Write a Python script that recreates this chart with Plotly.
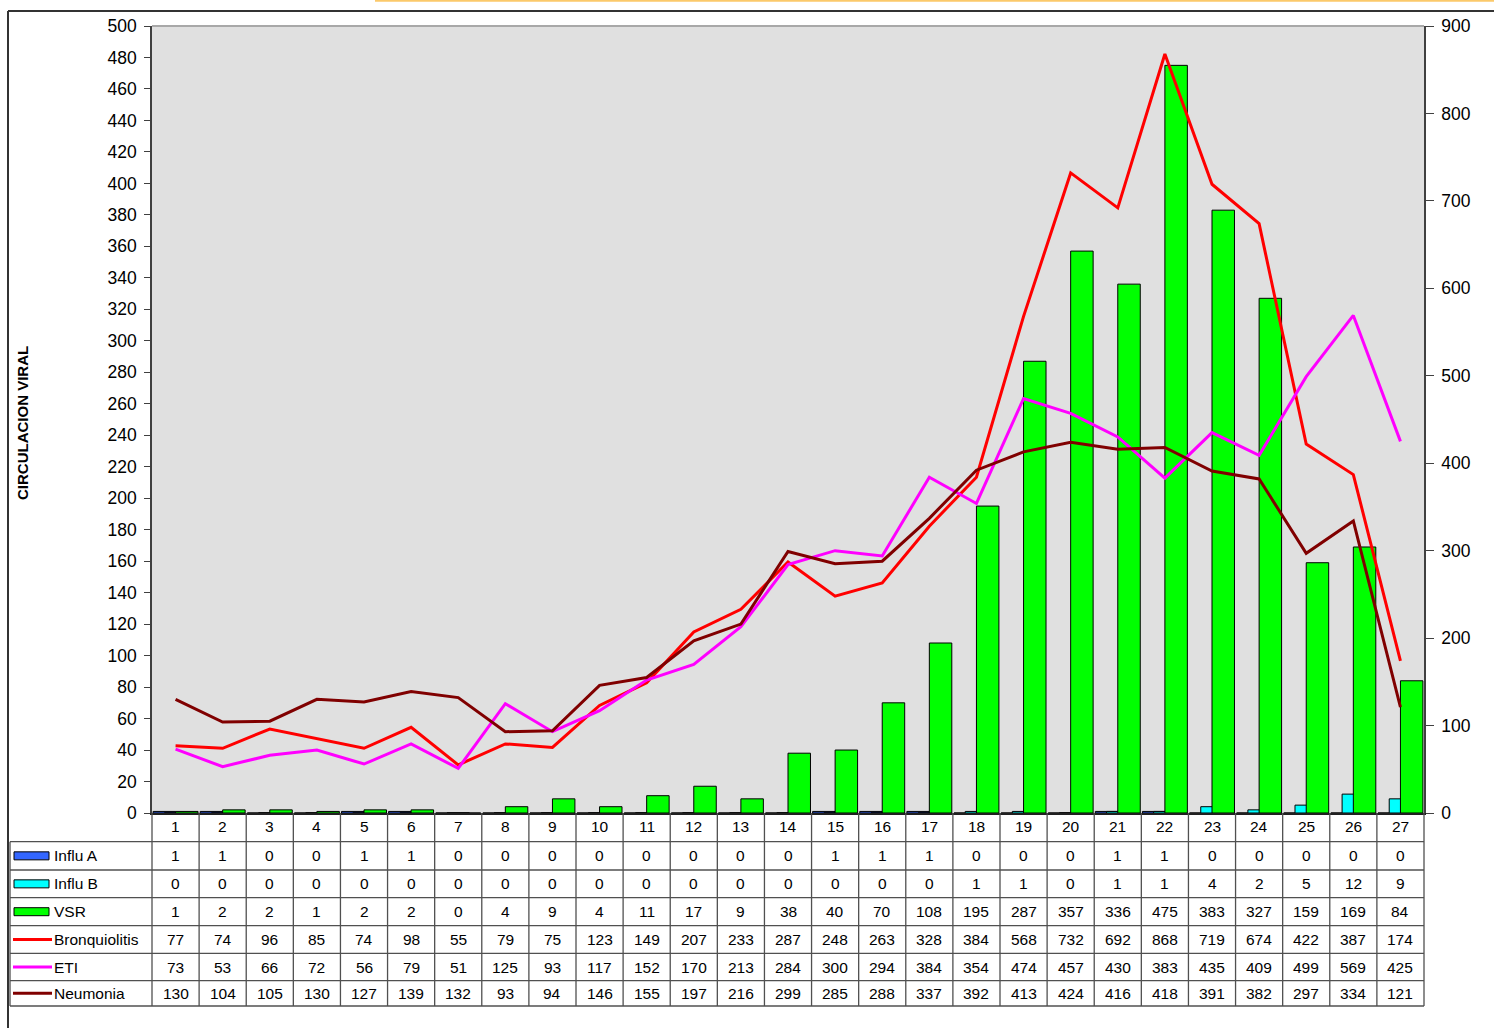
import plotly.graph_objects as go

categories = list(range(1, 28))
influ_a = [1, 1, 0, 0, 1, 1, 0, 0, 0, 0, 0, 0, 0, 0, 1, 1, 1, 0, 0, 0, 1, 1, 0, 0, 0, 0, 0]
influ_b = [0, 0, 0, 0, 0, 0, 0, 0, 0, 0, 0, 0, 0, 0, 0, 0, 0, 1, 1, 0, 1, 1, 4, 2, 5, 12, 9]
vsr = [1, 2, 2, 1, 2, 2, 0, 4, 9, 4, 11, 17, 9, 38, 40, 70, 108, 195, 287, 357, 336, 475, 383, 327, 159, 169, 84]
bronquiolitis = [77, 74, 96, 85, 74, 98, 55, 79, 75, 123, 149, 207, 233, 287, 248, 263, 328, 384, 568, 732, 692, 868, 719, 674, 422, 387, 174]
eti = [73, 53, 66, 72, 56, 79, 51, 125, 93, 117, 152, 170, 213, 284, 300, 294, 384, 354, 474, 457, 430, 383, 435, 409, 499, 569, 425]
neumonia = [130, 104, 105, 130, 127, 139, 132, 93, 94, 146, 155, 197, 216, 299, 285, 288, 337, 392, 413, 424, 416, 418, 391, 382, 297, 334, 121]

bar_series = [("Influ A", influ_a, "#3366FF"), ("Influ B", influ_b, "#00FFFF"), ("VSR", vsr, "#00FF00")]
line_series = [("Bronquiolitis", bronquiolitis, "#FF0000"), ("ETI", eti, "#FF00FF"), ("Neumonia", neumonia, "#800000")]

W, H = 1494, 1028
L, R, T, B = 152, 1424, 26, 813
FONT = "Liberation Sans, Arial, sans-serif"

def px(xp):
    return (xp - L) / (R - L)

def py(yp):
    return (B - yp) / (B - T)

fig = go.Figure()
bw = 0.477
offsets = [-bw, -bw / 2, 0]
for (name, vals, color), off in zip(bar_series, offsets):
    fig.add_trace(go.Bar(x=categories, y=vals, name=name, width=bw, offset=off,
                         marker=dict(color=color, line=dict(color="#000000", width=1)),
                         yaxis="y"))
for name, vals, color in line_series:
    fig.add_trace(go.Scatter(x=categories, y=vals, name=name, mode="lines",
                             line=dict(color=color, width=3), yaxis="y2"))

shapes = []
annotations = []

# plot top border
shapes.append(dict(type="line", xref="paper", yref="paper", x0=0, x1=1, y0=1, y1=1,
                   line=dict(color="#A8A8A8", width=2)))
# outer frame
shapes.append(dict(type="line", xref="paper", yref="paper", x0=px(8), x1=px(1500), y0=py(11), y1=py(11),
                   line=dict(color="#333333", width=2)))
shapes.append(dict(type="line", xref="paper", yref="paper", x0=px(8), x1=px(8), y0=py(11), y1=py(1035),
                   line=dict(color="#333333", width=2)))
# orange top line
shapes.append(dict(type="line", xref="paper", yref="paper", x0=px(375), x1=px(1500), y0=py(0.8), y1=py(0.8),
                   line=dict(color="#FBC96A", width=2)))

# table grid
rows = [813, 841.7, 870, 897.7, 925.7, 953.3, 980.7, 1006]
grid_col = "#505050"
n = len(categories)
for k in range(n + 1):
    xp = k / n
    shapes.append(dict(type="line", xref="paper", yref="paper", x0=xp, x1=xp, y0=py(813), y1=py(1006),
                       line=dict(color=grid_col, width=1.3)))
shapes.append(dict(type="line", xref="paper", yref="paper", x0=px(10), x1=px(10), y0=py(841.7), y1=py(1006),
                   line=dict(color=grid_col, width=1.3)))
for r in rows[1:]:
    shapes.append(dict(type="line", xref="paper", yref="paper", x0=px(10), x1=1, y0=py(r), y1=py(r),
                       line=dict(color=grid_col, width=1.3)))

# category row
cy = py((rows[0] + rows[1]) / 2 - 1)
for c in categories:
    annotations.append(dict(x=c, y=cy, xref="x", yref="paper", text=str(c), showarrow=False,
                            font=dict(size=15.5, color="#000"), xanchor="center", yanchor="middle"))

all_rows = bar_series + line_series
for i, (name, vals, color) in enumerate(all_rows):
    ry = py((rows[i + 1] + rows[i + 2]) / 2)
    for c, v in zip(categories, vals):
        annotations.append(dict(x=c, y=ry, xref="x", yref="paper", text=str(v), showarrow=False,
                                font=dict(size=15.5, color="#000"), xanchor="center", yanchor="middle"))
    annotations.append(dict(x=px(52), y=ry, xref="paper", yref="paper", text=name, showarrow=False,
                            font=dict(size=15.5, color="#000"), xanchor="left", yanchor="middle"))
    ymid = (rows[i + 1] + rows[i + 2]) / 2
    if i < 3:
        shapes.append(dict(type="rect", xref="paper", yref="paper", x0=px(14), x1=px(49),
                           y0=py(ymid - 4), y1=py(ymid + 4), fillcolor=color,
                           line=dict(color="#000", width=1)))
    else:
        shapes.append(dict(type="line", xref="paper", yref="paper", x0=px(13), x1=px(52),
                           y0=py(ymid), y1=py(ymid), line=dict(color=color, width=3)))

annotations.append(dict(x=px(22), y=py(423), xref="paper", yref="paper", text="<b>CIRCULACION VIRAL</b>",
                        textangle=-90, showarrow=False, font=dict(size=15, color="#000"),
                        xanchor="center", yanchor="middle"))
annotations.append(dict(x=px(1490), y=py(420), xref="paper", yref="paper", text="<b>IRA</b>",
                        textangle=-90, showarrow=False, font=dict(size=15, color="#000"),
                        xanchor="left", yanchor="middle"))

fig.update_layout(
    width=W, height=H,
    margin=dict(l=L, r=W - R, t=T, b=H - B, pad=0),
    paper_bgcolor="#FFFFFF", plot_bgcolor="#E0E0E0",
    barmode="overlay", showlegend=False,
    font=dict(family=FONT, color="#000"),
    xaxis=dict(range=[0.5, n + 0.5], showticklabels=False, ticks="", showgrid=False, zeroline=False,
               showline=True, linecolor="#202020", linewidth=1.5),
    yaxis=dict(range=[0, 500], dtick=20, tick0=0, ticks="outside", ticklen=6, tickcolor="#404040",
               showline=True, linecolor="#404040", linewidth=1.5, showgrid=False, zeroline=False,
               tickfont=dict(size=17.5, color="#000"), ticklabelstandoff=4),
    yaxis2=dict(range=[0, 900], dtick=100, tick0=0, overlaying="y", side="right", anchor="x",
                ticks="outside", ticklen=8, tickcolor="#404040", showline=True, linecolor="#404040",
                linewidth=1.5, showgrid=False, zeroline=False, tickfont=dict(size=17.5, color="#000"),
                ticklabelstandoff=4),
    shapes=shapes, annotations=annotations,
)

fig.write_html("out.html", config={"displayModeBar": False},
               post_script="document.body.style.margin='0px';document.body.style.overflow='hidden';")
